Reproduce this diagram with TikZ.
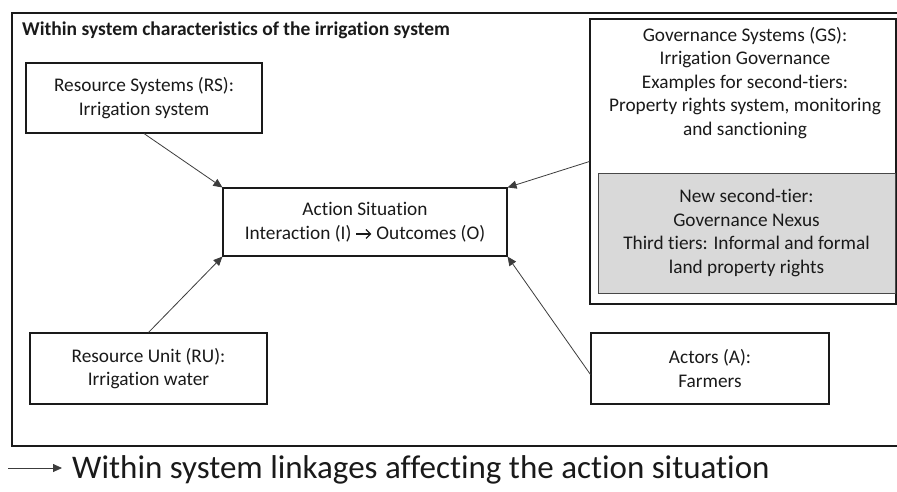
\documentclass[tikz,border=0pt]{standalone}
\usepackage{fontspec}
\setmainfont{Carlito}[Ligatures=CommonOff]
\usetikzlibrary{arrows.meta}
\definecolor{boxgray}{HTML}{D9D9D9}
\definecolor{ink}{HTML}{1A1A1A}
\newcommand{\chevarrow}{\tikz[baseline=-0.55ex,x=1pt,y=1pt]\draw[ink,line width=1.3pt,-{Straight Barb[length=4.5pt,width=9pt]}] (0,0)--(15,0);}
\tikzset{
  every node/.style={text=ink},
  box/.style={draw=ink, line width=1.1pt, inner sep=0pt, align=center,
    font=\fontsize{19.3}{23.5}\selectfont},
  txt/.style={inner sep=0pt, align=center, font=\fontsize{19.3}{23.5}\selectfont},
  link/.style={draw=ink!85, line width=0.8pt, -{Triangle[length=9pt,width=8pt]}},
}
\begin{document}
\begin{tikzpicture}[x=1pt,y=-1pt]
\useasboundingbox (0,0) rectangle (897,491);
\fill[white] (0,0) rectangle (897,491);
% outer frame
\draw[draw=ink, line width=1.1pt] (905,13) -- (12,13) -- (12,446) -- (905,446);
\node[anchor=west, inner sep=0pt, font=\fontsize{19.5}{22}\selectfont\bfseries] (title) at (22,30)
  {Within system characteristics of the irrigation system};
% boxes
\node[box, minimum width=236pt, minimum height=70pt] (RS) at (144,98)
  {Resource Systems (RS):\\Irrigation system};
\node[box, minimum width=284pt, minimum height=68pt] (AS) at (365,222)
  {Action Situation\\Interaction (I) \chevarrow{} Outcomes (O)};
\node[box, minimum width=306pt, minimum height=285pt] (GS) at (743,161.5) {};
\node[txt] (GStext) at (745,83)
  {Governance Systems (GS):\\Irrigation Governance\\Examples for second-tiers:\\Property rights system, monitoring\\and sanctioning};
\node[box, fill=boxgray, draw=ink!80, line width=0.9pt, minimum width=297pt, minimum height=120pt] (NX) at (746.5,233)
  {New second-tier:\\Governance Nexus\\Third tiers: Informal and formal\\land property rights};
\node[box, minimum width=237pt, minimum height=71pt] (RU) at (148.5,368.5)
  {Resource Unit (RU):\\Irrigation water};
\node[box, minimum width=238pt, minimum height=71pt] (AC) at (710,368.5)
  {Actors (A):\\Farmers};
% links
\draw[link] (RS.south) -- (AS.north west);
\draw[link] (RU.north) -- (AS.south west);
\draw[link] (GS.west) -- (AS.north east);
\draw[link] ([yshift=-6pt]AC.west) -- (AS.south east);
% legend
\coordinate (L1) at (8,468);
\coordinate (L2) at (62,468);
\draw[link] (L1) -- (L2);
\node[anchor=west, inner sep=0pt, font=\fontsize{33}{36}\selectfont] (legend) at (72,470)
  {Within system linkages affecting the action situation};
\end{tikzpicture}
\end{document}
